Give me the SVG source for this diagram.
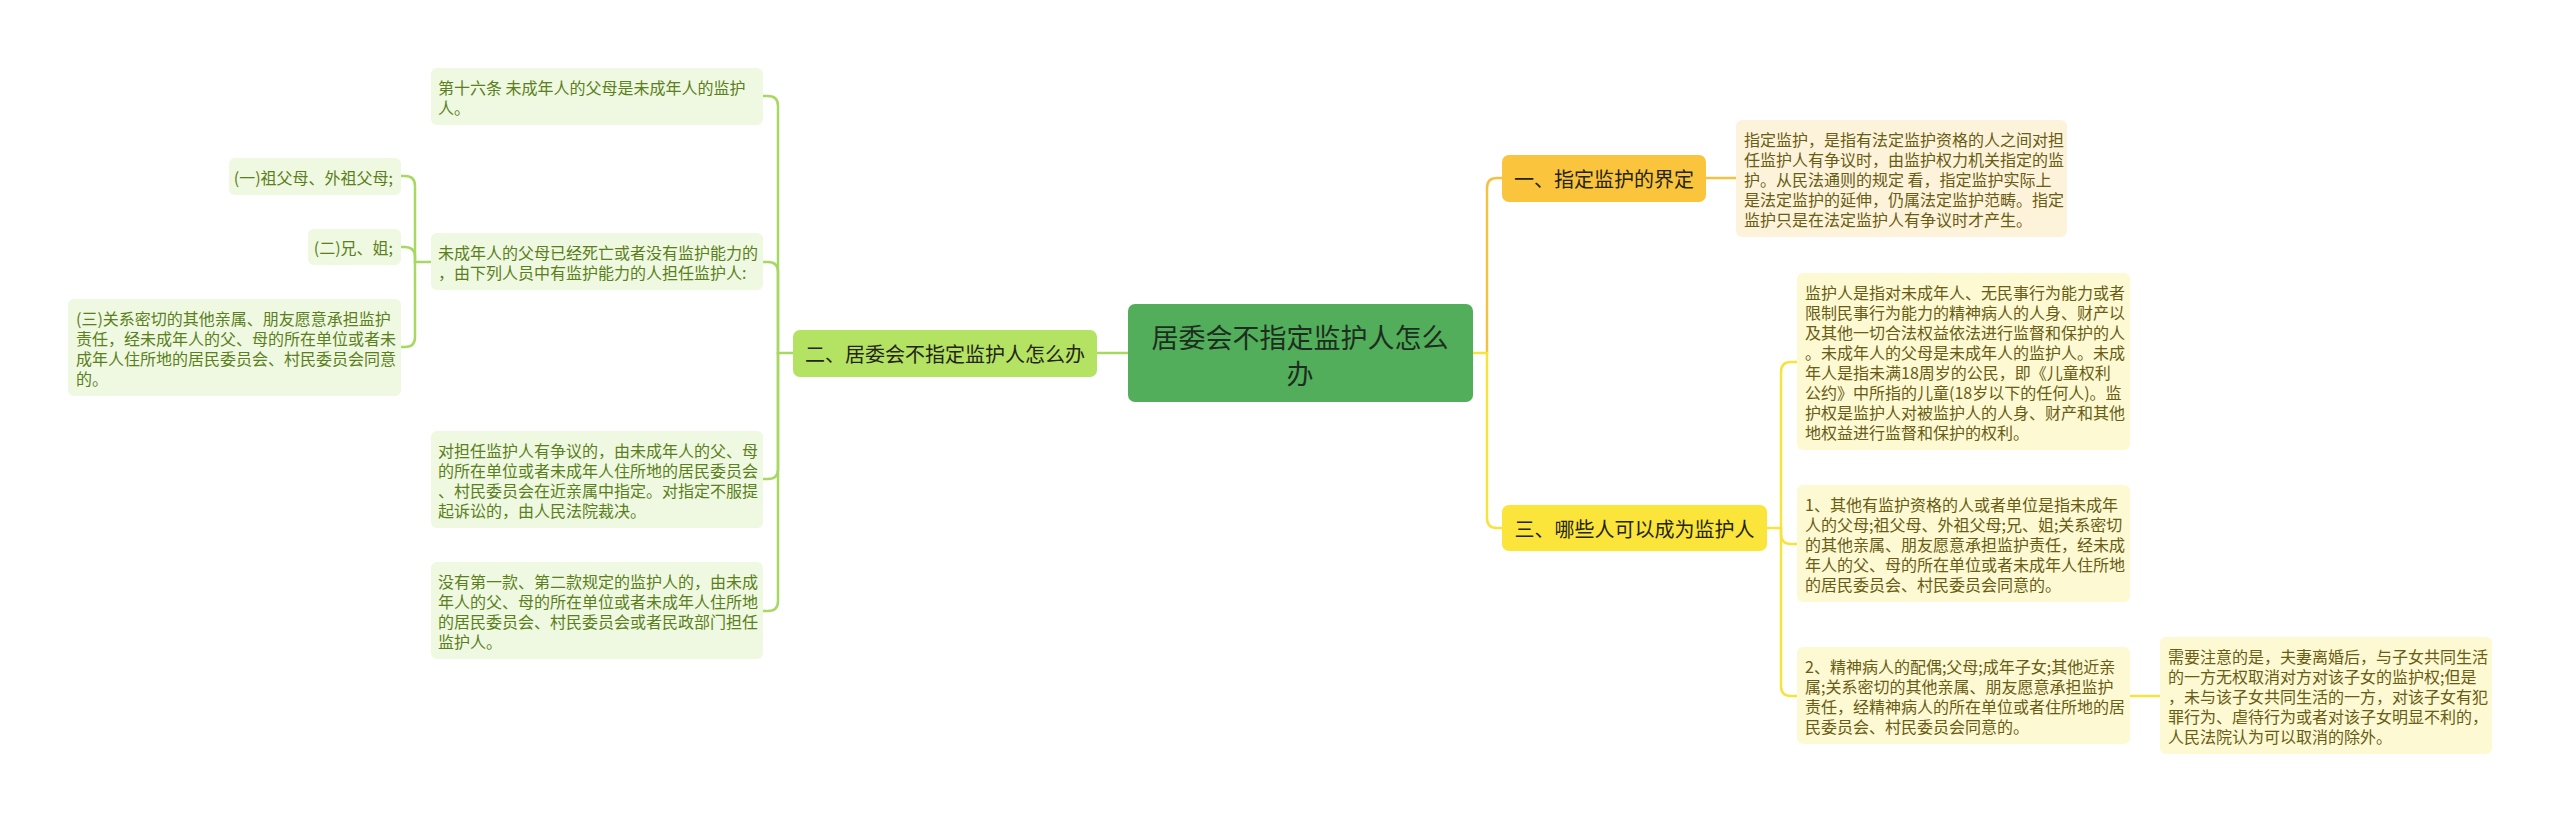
<svg xmlns="http://www.w3.org/2000/svg" width="2560" height="822" viewBox="0 0 2560 822">
<style>
text{font-family:"Noto Sans CJK SC","Noto Sans",sans-serif;}
.conn{fill:none;stroke-width:2.5;stroke-linecap:round;}
.cg{stroke:#a7d861;}
.co{stroke:#f5c143;}
.cy{stroke:#f6e33c;}
.root{fill:#52ae5a;}
.roott{font-size:27px;fill:#1d2e1f;text-anchor:middle;dominant-baseline:central;}
.bt{font-size:20px;fill:#252515;text-anchor:middle;dominant-baseline:central;}
.lg{fill:#eff8e0;}
.lgt{font-size:16px;fill:#5b7f1d;dominant-baseline:central;}
.lo{fill:#fdf3da;}
.ly{fill:#fdf9d3;}
.lyt{font-size:16px;fill:#695c14;dominant-baseline:central;}
</style>
<rect width="2560" height="822" fill="#ffffff"/>
<g id="connectors">
<path class="conn cg" d="M1128,353 H1097"/>
<path class="conn cg" d="M793,353 H778 V106 Q778,96 768,96 H763"/>
<path class="conn cg" d="M778,353 V272 Q778,262 768,262 H763"/>
<path class="conn cg" d="M778,353 V469 Q778,479 768,479 H763"/>
<path class="conn cg" d="M778,353 V601 Q778,611 768,611 H763"/>
<path class="conn cg" d="M431,262 H415 V186 Q415,176 405,176 H401"/>
<path class="conn cg" d="M415,262 V257 Q415,247 405,247 H401"/>
<path class="conn cg" d="M415,262 V337 Q415,347 405,347 H401"/>
<path class="conn co" d="M1487,353 V188 Q1487,178 1497,178 H1502"/>
<path class="conn cy" d="M1473,353 H1487 V518 Q1487,528 1497,528 H1502"/>
<path class="conn co" d="M1706,178 H1736"/>
<path class="conn cy" d="M1767,528 H1781 V372 Q1781,362 1791,362 H1797"/>
<path class="conn cy" d="M1781,528 V534 Q1781,544 1791,544 H1797"/>
<path class="conn cy" d="M1781,528 V686 Q1781,696 1791,696 H1797"/>
<path class="conn cy" d="M2130,696 H2160"/>
</g>
<g id="root">
<rect class="root" x="1128" y="304" width="345" height="98" rx="7"/>
<text class="roott" x="1300" y="336">居委会不指定监护人怎么</text>
<text class="roott" x="1300" y="372">办</text>
</g>
<g id="b2">
<rect x="793" y="330" width="304" height="47" rx="7" fill="#b4e263"/>
<text class="bt" x="945" y="353.5">二、居委会不指定监护人怎么办</text>
</g>
<g id="b1">
<rect x="1502" y="155" width="204" height="47" rx="7" fill="#fbc43d"/>
<text class="bt" x="1604" y="178.5">一、指定监护的界定</text>
</g>
<g id="b3">
<rect x="1502" y="505" width="265" height="46" rx="7" fill="#fbe53b"/>
<text class="bt" x="1634.5" y="528">三、哪些人可以成为监护人</text>
</g>
<g id="l1">
<rect class="lg" x="431" y="68" width="332" height="57" rx="6"/>
<text class="lgt" x="438"><tspan x="438" y="86.5">第十六条 未成年人的父母是未成年人的监护</tspan><tspan x="438" y="106.5">人。</tspan></text>
</g>
<g id="l2">
<rect class="lg" x="431" y="233" width="332" height="57" rx="6"/>
<text class="lgt"><tspan x="438" y="251.5">未成年人的父母已经死亡或者没有监护能力的</tspan><tspan x="438" y="271.5">，由下列人员中有监护能力的人担任监护人:</tspan></text>
</g>
<g id="l2a">
<rect class="lg" x="229" y="158" width="172" height="37" rx="6"/>
<text class="lgt" x="393" y="176.5" text-anchor="end">(一)祖父母、外祖父母;</text>
</g>
<g id="l2b">
<rect class="lg" x="308" y="229" width="93" height="36" rx="6"/>
<text class="lgt" x="393" y="247" text-anchor="end">(二)兄、姐;</text>
</g>
<g id="l2c">
<rect class="lg" x="68" y="299" width="333" height="97" rx="6"/>
<text class="lgt"><tspan x="76" y="317.5">(三)关系密切的其他亲属、朋友愿意承担监护</tspan><tspan x="76" y="337.5">责任，经未成年人的父、母的所在单位或者未</tspan><tspan x="76" y="357.5">成年人住所地的居民委员会、村民委员会同意</tspan><tspan x="76" y="377.5">的。</tspan></text>
</g>
<g id="l3">
<rect class="lg" x="431" y="431" width="332" height="97" rx="6"/>
<text class="lgt"><tspan x="438" y="449.5">对担任监护人有争议的，由未成年人的父、母</tspan><tspan x="438" y="469.5">的所在单位或者未成年人住所地的居民委员会</tspan><tspan x="438" y="489.5">、村民委员会在近亲属中指定。对指定不服提</tspan><tspan x="438" y="509.5">起诉讼的，由人民法院裁决。</tspan></text>
</g>
<g id="l4">
<rect class="lg" x="431" y="562" width="332" height="97" rx="6"/>
<text class="lgt"><tspan x="438" y="580.5">没有第一款、第二款规定的监护人的，由未成</tspan><tspan x="438" y="600.5">年人的父、母的所在单位或者未成年人住所地</tspan><tspan x="438" y="620.5">的居民委员会、村民委员会或者民政部门担任</tspan><tspan x="438" y="640.5">监护人。</tspan></text>
</g>
<g id="r1">
<rect class="lo" x="1736" y="120" width="331" height="117" rx="6"/>
<text class="lyt"><tspan x="1744" y="139">指定监护，是指有法定监护资格的人之间对担</tspan><tspan x="1744" y="159">任监护人有争议时，由监护权力机关指定的监</tspan><tspan x="1744" y="179">护。从民法通则的规定 看，指定监护实际上</tspan><tspan x="1744" y="199">是法定监护的延伸，仍属法定监护范畴。指定</tspan><tspan x="1744" y="219">监护只是在法定监护人有争议时才产生。</tspan></text>
</g>
<g id="r3a">
<rect class="ly" x="1797" y="273" width="333" height="177" rx="6"/>
<text class="lyt"><tspan x="1805" y="291.5">监护人是指对未成年人、无民事行为能力或者</tspan><tspan x="1805" y="311.5">限制民事行为能力的精神病人的人身、财产以</tspan><tspan x="1805" y="331.5">及其他一切合法权益依法进行监督和保护的人</tspan><tspan x="1805" y="351.5">。未成年人的父母是未成年人的监护人。未成</tspan><tspan x="1805" y="371.5">年人是指未满18周岁的公民，即《儿童权利</tspan><tspan x="1805" y="391.5">公约》中所指的儿童(18岁以下的任何人)。监</tspan><tspan x="1805" y="411.5">护权是监护人对被监护人的人身、财产和其他</tspan><tspan x="1805" y="431.5">地权益进行监督和保护的权利。</tspan></text>
</g>
<g id="r3b">
<rect class="ly" x="1797" y="485" width="333" height="117" rx="6"/>
<text class="lyt"><tspan x="1805" y="503.5">1、其他有监护资格的人或者单位是指未成年</tspan><tspan x="1805" y="523.5">人的父母;祖父母、外祖父母;兄、姐;关系密切</tspan><tspan x="1805" y="543.5">的其他亲属、朋友愿意承担监护责任，经未成</tspan><tspan x="1805" y="563.5">年人的父、母的所在单位或者未成年人住所地</tspan><tspan x="1805" y="583.5">的居民委员会、村民委员会同意的。</tspan></text>
</g>
<g id="r3c">
<rect class="ly" x="1797" y="647" width="333" height="97" rx="6"/>
<text class="lyt"><tspan x="1805" y="665.5">2、精神病人的配偶;父母;成年子女;其他近亲</tspan><tspan x="1805" y="685.5">属;关系密切的其他亲属、朋友愿意承担监护</tspan><tspan x="1805" y="705.5">责任，经精神病人的所在单位或者住所地的居</tspan><tspan x="1805" y="725.5">民委员会、村民委员会同意的。</tspan></text>
</g>
<g id="r3c1">
<rect class="ly" x="2160" y="637" width="332" height="117" rx="6"/>
<text class="lyt"><tspan x="2168" y="655.5">需要注意的是，夫妻离婚后，与子女共同生活</tspan><tspan x="2168" y="675.5">的一方无权取消对方对该子女的监护权;但是</tspan><tspan x="2168" y="695.5">，未与该子女共同生活的一方，对该子女有犯</tspan><tspan x="2168" y="715.5">罪行为、虐待行为或者对该子女明显不利的，</tspan><tspan x="2168" y="735.5">人民法院认为可以取消的除外。</tspan></text>
</g>
</svg>
